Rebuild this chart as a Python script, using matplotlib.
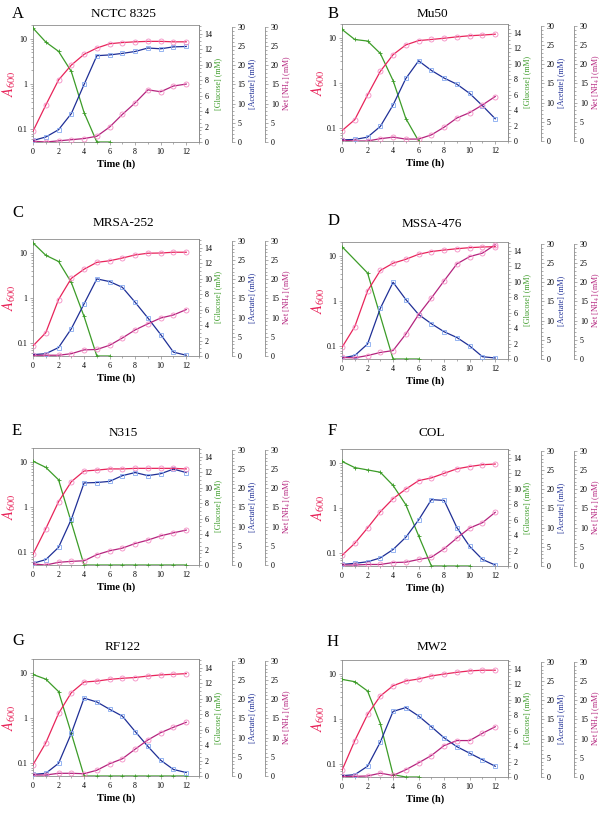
import matplotlib
matplotlib.use("Agg")
import matplotlib.pyplot as plt
from matplotlib.ticker import MultipleLocator, NullFormatter

plt.rcParams['font.family'] = 'Liberation Serif'
plt.rcParams['mathtext.fontset'] = 'stix'

hours = list(range(13))

# A  NCTC 8325
a600_A = [0.09, 0.34, 1.22, 2.6, 4.5, 6.2, 7.7, 8.2, 8.5, 8.7, 8.7, 8.5, 8.5]
glc_hours_A = [0, 1, 2, 3, 4, 5, 6]
glucose_A = [14.7, 12.9, 11.7, 9.1, 3.8, 0, 0]
acetate_A = [0.4, 1.3, 3.2, 7.4, 15.0, 22.5, 22.7, 23.1, 23.6, 24.5, 24.3, 24.8, 24.9]
nh4_A = [0.2, 0.0, 0.3, 0.6, 0.9, 1.5, 3.9, 7.2, 10.2, 13.6, 13.1, 14.6, 15.1]

# B  Mu50
a600_B = [0.088, 0.154, 0.54, 1.8, 4.2, 6.9, 8.6, 9.1, 9.7, 10.4, 11.0, 11.4, 11.9]
glc_hours_B = [0, 1, 2, 3, 4, 5, 6]
glucose_B = [14.4, 13.1, 12.9, 11.3, 7.8, 2.9, 0]
acetate_B = [0.3, 0.4, 1.0, 3.8, 9.4, 16.3, 20.9, 18.4, 16.4, 14.8, 12.4, 9.2, 5.8]
nh4_B = [0.2, 0.0, 0.0, 0.6, 1.0, 0.5, 0.5, 1.6, 3.6, 6.0, 7.4, 9.4, 11.6]

# C  MRSA-252
a600_C = [0.087, 0.17, 0.92, 2.7, 4.3, 6.1, 6.6, 7.6, 8.9, 9.7, 9.8, 10.2, 10.2]
glc_hours_C = [0, 1, 2, 3, 4, 5, 6]
glucose_C = [14.6, 13.0, 12.2, 9.5, 5.1, 0, 0]
acetate_C = [0.35, 0.6, 2.2, 7.1, 13.6, 20.1, 19.4, 17.9, 14.0, 9.9, 5.6, 1.0, 0.2]
nh4_C = [0.2, 0.2, 0.2, 0.6, 1.6, 1.7, 2.8, 4.7, 6.8, 8.4, 9.9, 10.7, 12.1]

# D  MSSA-476
a600_D = [0.094, 0.27, 1.66, 4.7, 6.8, 8.3, 10.7, 12.3, 13.3, 14.2, 15.0, 15.5, 15.8]
glc_hours_D = [0, 2, 4, 5, 6]
glucose_D = [14.5, 11.1, 0, 0, 0]
acetate_D = [0.26, 0.9, 3.9, 13.2, 20.0, 15.5, 11.6, 9.2, 7.1, 5.6, 3.4, 0.6, 0.26]
nh4_D = [0.4, 0.3, 0.9, 1.7, 2.2, 6.5, 11.6, 15.9, 20.4, 24.8, 26.7, 27.6, 29.8]

# E  N315
a600_E = [0.09, 0.33, 1.3, 3.6, 6.2, 6.5, 6.9, 6.9, 7.1, 7.1, 7.1, 7.1, 6.9]
glc_hours_E = list(range(13))
glucose_E = [13.4, 12.6, 11.0, 5.5, 0, 0, 0, 0, 0, 0, 0, 0, 0]
acetate_E = [0.45, 1.4, 4.6, 11.9, 21.4, 21.5, 21.8, 23.3, 24.1, 23.3, 23.8, 25.0, 24.1]
nh4_E = [0.26, 0.0, 0.7, 0.95, 1.1, 2.7, 3.7, 4.4, 5.6, 6.5, 7.6, 8.4, 9.1]

# F  COL
a600_F = [0.089, 0.165, 0.36, 0.82, 1.6, 2.6, 4.0, 4.6, 5.8, 7.3, 8.2, 9.0, 9.3]
glc_hours_F = list(range(11))
glucose_F = [13.5, 12.7, 12.4, 12.1, 10.4, 7.9, 3.9, 0, 0, 0, 0]
acetate_F = [0.4, 0.7, 1.1, 2.1, 4.3, 7.5, 12.0, 17.3, 17.1, 10.0, 5.1, 1.7, 0.26]
nh4_F = [0.26, 0.26, 0.4, 0.4, 0.9, 1.0, 1.7, 2.3, 4.5, 7.3, 9.9, 11.3, 14.0]

# G  RF122
a600_G = [0.092, 0.28, 1.25, 3.6, 6.2, 6.5, 7.1, 7.5, 7.8, 8.4, 8.9, 9.2, 9.5]
glc_hours_G = list(range(13))
glucose_G = [13.1, 12.5, 10.9, 5.5, 0, 0, 0, 0, 0, 0, 0, 0, 0]
acetate_G = [0.4, 0.7, 3.3, 11.1, 20.3, 19.3, 17.4, 15.6, 11.6, 7.7, 4.1, 1.7, 0.9]
nh4_G = [0.26, 0.26, 0.7, 0.7, 0.6, 1.5, 3.2, 4.5, 7.0, 9.4, 11.3, 12.7, 14.0]

# H  MW2
a600_H = [0.073, 0.33, 1.25, 3.2, 5.4, 6.9, 7.6, 8.9, 9.8, 10.7, 11.5, 11.9, 11.9]
glc_hours_H = [0, 1, 2, 3, 4, 5, 6]
glucose_H = [12.6, 12.3, 11.1, 6.9, 0.3, 0, 0]
acetate_H = [0.34, 0.6, 2.8, 9.1, 17.1, 18.1, 15.9, 13.1, 10.2, 7.9, 6.2, 4.5, 2.8]
nh4_H = [0.17, 0.17, 0.26, 1.0, 0.4, 1.9, 3.7, 5.6, 8.2, 9.5, 9.5, 11.4, 13.1]

letters = ['A', 'B', 'C', 'D', 'E', 'F', 'G', 'H']
strains = ['NCTC 8325', 'Mu50', 'MRSA-252', 'MSSA-476', 'N315', 'COL', 'RF122', 'MW2']

RED = '#e8245a'
PINK = '#f48cc4'
NAVY = '#1f2f96'
LBLUE = '#86aaf0'
MAG = '#b4247e'
GREEN = '#3c9c28'
GREY = '#8c8c8c'

W, H = 612, 815
fig = plt.figure(figsize=(W / 100, H / 100), dpi=100)

# layout in pixels
lefts = [33, 342, 33, 342, 33, 342, 33, 342]
tops = [25, 24, 239, 242, 448, 449, 659, 660]
letter_x = [12, 328, 12, 328, 12, 328, 12, 327]
letter_y = [14, 14, 213, 221, 431, 431, 641, 642]
title_y = [14, 14, 223, 224, 433, 433, 647, 647]


def panel(i, a600, glc_h, glc, ace, nh4):
    left, top = lefts[i], tops[i]
    ax = fig.add_axes([left / W, 1 - (top + 117) / H, 166 / W, 117 / H])
    ax_g = ax.twinx()
    ax_a = ax.twinx()
    ax_n = ax.twinx()
    ax_top = ax.twinx()

    ax_g.plot(glc_h, glc, '-', color=GREEN, lw=0.9, marker='+', ms=3, mec=GREEN, mew=0.6)
    ax_a.plot(hours, ace, '-', color=NAVY, lw=0.9, marker='s', ms=3.2, mfc='none', mec=LBLUE, mew=0.6)
    ax_n.plot(hours, nh4, '-', color=MAG, lw=0.9, marker='o', ms=3.6, mfc='none', mec=PINK, mew=0.6)
    # A600 on the top-most twin so it sits above the others
    ax_top.set_yscale('log')
    ax_top.set_ylim(0.052, 20)
    ax_top.axis('off')
    ax_top.plot(hours, a600, '-', color=RED, lw=0.9, marker='o', ms=3.6, mfc='none', mec=PINK, mew=0.6)

    ax.set_yscale('log')
    ax.set_ylim(0.052, 20)
    ax.set_xlim(0, 13)
    ax.set_yticks([0.1, 1, 10], labels=['0.1', '1', '10'])
    ax.yaxis.set_minor_formatter(NullFormatter())
    ax.xaxis.set_major_locator(MultipleLocator(2))
    ax.xaxis.set_minor_locator(MultipleLocator(1))
    ax.set_xlabel('Time (h)', fontweight='bold', fontsize=7.5, labelpad=3)
    ax.set_ylabel(r'$A_{600}$', color=RED, fontsize=10.5, labelpad=0)
    for s in ax.spines.values():
        s.set_color(GREY)
        s.set_linewidth(0.6)
    ax.tick_params(which='both', labelsize=5.8, width=0.5, color=GREY, pad=1.5)
    ax.tick_params(which='major', length=2.5)
    ax.tick_params(which='minor', length=1.5)

    ax_g.set_ylim(0, 15.1)
    ax_g.yaxis.set_major_locator(MultipleLocator(2))
    ax_g.yaxis.set_minor_locator(MultipleLocator(0.5))
    ax_g.set_ylabel('[Glucose] (mM)', color=GREEN, fontsize=5.8, labelpad=1.5)
    for s in ax_g.spines.values():
        s.set_visible(False)
    ax_g.spines['right'].set_visible(True)
    ax_g.spines['right'].set_color(GREY)
    ax_g.spines['right'].set_linewidth(0.6)

    for axx, pos, lab, col in [(ax_a, 1.2, '[Acetate] (mM)', NAVY),
                               (ax_n, 1.4, r'Net [NH$_4$] (mM)', MAG)]:
        axx.set_ylim(0, 30.5)
        axx.yaxis.set_major_locator(MultipleLocator(5))
        axx.yaxis.set_minor_locator(MultipleLocator(1))
        for s in axx.spines.values():
            s.set_visible(False)
        sp = axx.spines['right']
        sp.set_visible(True)
        sp.set_position(('axes', pos))
        sp.set_bounds(0, 30)
        sp.set_color(GREY)
        sp.set_linewidth(0.6)
        sp.set_linestyle((0, (1, 1)))
        axx.set_ylabel(lab, color=col, fontsize=5.8, labelpad=1.5)

    for axx in (ax_g, ax_a, ax_n):
        axx.tick_params(which='both', labelsize=5.8, width=0.5, color=GREY, pad=1.5)
        axx.tick_params(which='major', length=2.5)
        axx.tick_params(which='minor', length=1.2)

    fig.text((left + 83 + 7) / W, 1 - title_y[i] / H, strains[i], fontsize=9.5,
             ha='center', va='center')
    fig.text(letter_x[i] / W, 1 - letter_y[i] / H, letters[i], fontsize=12,
             ha='left', va='center')


a600s = [a600_A, a600_B, a600_C, a600_D, a600_E, a600_F, a600_G, a600_H]
glc_hours = [glc_hours_A, glc_hours_B, glc_hours_C, glc_hours_D,
             glc_hours_E, glc_hours_F, glc_hours_G, glc_hours_H]
glucoses = [glucose_A, glucose_B, glucose_C, glucose_D, glucose_E, glucose_F, glucose_G, glucose_H]
acetates = [acetate_A, acetate_B, acetate_C, acetate_D, acetate_E, acetate_F, acetate_G, acetate_H]
nh4s = [nh4_A, nh4_B, nh4_C, nh4_D, nh4_E, nh4_F, nh4_G, nh4_H]

for i in range(8):
    panel(i, a600s[i], glc_hours[i], glucoses[i], acetates[i], nh4s[i])

fig.savefig('out.png', dpi=100)
